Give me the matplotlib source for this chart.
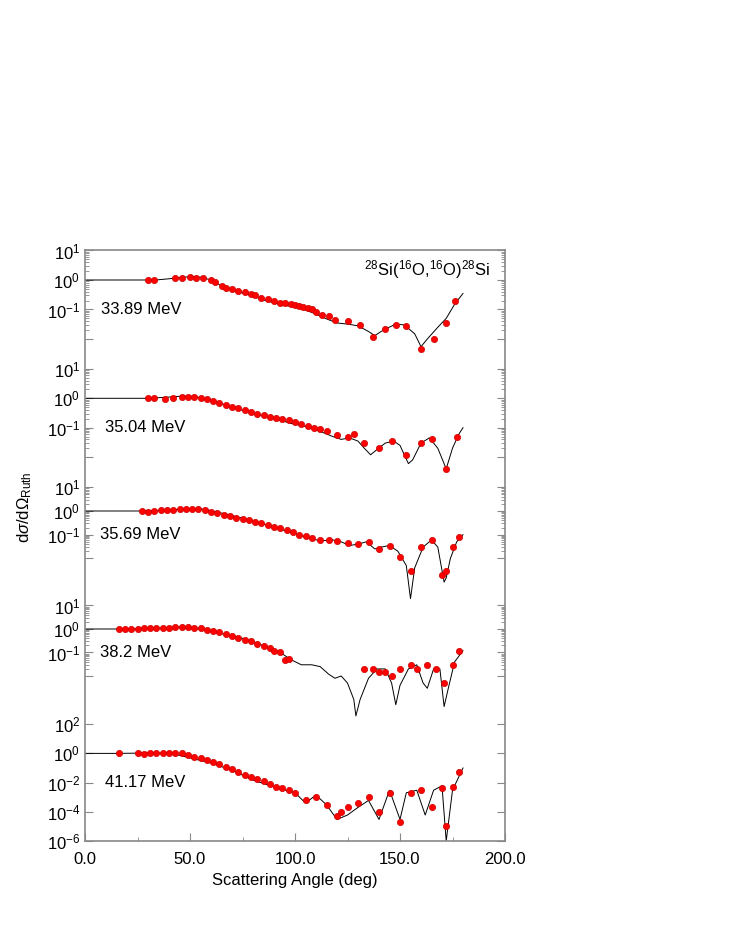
import numpy as np
import matplotlib.pyplot as plt
from matplotlib.ticker import FixedLocator, FixedFormatter

plt.rcParams['font.family'] = ['Liberation Sans', 'DejaVu Sans']
plt.rcParams['mathtext.fontset'] = 'custom'
plt.rcParams['mathtext.rm'] = 'Liberation Sans'
plt.rcParams['mathtext.it'] = 'Liberation Sans:italic'

# ---------------------------------------------------------
# data: angle (deg) and ratio to Rutherford
# ---------------------------------------------------------
energies = ['33.89 MeV', '35.04 MeV', '35.69 MeV', '38.2 MeV', '41.17 MeV']

th1_ang = [0, 25, 30, 35, 40, 45, 50, 55, 60, 65, 70, 75, 80, 85, 90, 95, 100, 105, 110, 115,
           120, 125, 130, 135, 138, 142, 148, 152, 157, 160, 163, 168, 172, 176, 180]
th1_val = [1.0, 1.0, 1.0, 1.02, 1.1, 1.2, 1.3, 1.25, 1.0, 0.63, 0.46, 0.36, 0.29, 0.21, 0.17, 0.14,
           0.12, 0.096, 0.07, 0.048, 0.035, 0.032, 0.028, 0.018, 0.013, 0.02, 0.032, 0.03, 0.015,
           0.0055, 0.01, 0.025, 0.05, 0.15, 0.35]
ex1_ang = [30, 33, 43, 46, 50, 53, 56, 60, 62, 65, 67, 70, 73, 76, 79, 81, 84, 87, 90, 93, 95, 98,
           100, 102, 104, 106, 108, 110, 113, 116, 119, 125, 131, 137, 143, 148, 153, 160, 166, 172, 176]
ex1_val = [1.0, 0.97, 1.15, 1.2, 1.25, 1.2, 1.15, 1.0, 0.85, 0.65, 0.55, 0.48, 0.42, 0.38, 0.33, 0.3,
           0.25, 0.23, 0.2, 0.17, 0.16, 0.15, 0.14, 0.13, 0.12, 0.11, 0.1, 0.085, 0.065, 0.06, 0.045,
           0.04, 0.03, 0.012, 0.022, 0.03, 0.027, 0.0045, 0.01, 0.035, 0.2]

th2_ang = [0, 30, 40, 47, 52, 58, 63, 68, 73, 78, 83, 88, 93, 98, 103, 108, 113, 118, 122, 126, 130,
           133, 136, 139, 143, 147, 150, 154, 156, 160, 164, 168, 172, 175, 178, 180]
th2_val = [1.0, 1.0, 1.1, 1.2, 1.15, 0.95, 0.75, 0.55, 0.42, 0.35, 0.27, 0.22, 0.18, 0.14, 0.12,
           0.095, 0.07, 0.05, 0.04, 0.045, 0.035, 0.02, 0.012, 0.018, 0.03, 0.035, 0.025, 0.006,
           0.008, 0.03, 0.045, 0.02, 0.004, 0.02, 0.06, 0.1]
ex2_ang = [30, 33, 38, 42, 46, 49, 52, 55, 58, 61, 64, 67, 70, 73, 76, 79, 82, 85, 88, 91, 94, 97,
           100, 103, 106, 109, 112, 115, 120, 125, 128, 133, 140, 146, 153, 160, 165, 172, 177]
ex2_val = [1.0, 1.0, 0.97, 1.05, 1.15, 1.15, 1.1, 1.0, 0.92, 0.8, 0.7, 0.58, 0.5, 0.45, 0.4, 0.35,
           0.3, 0.27, 0.24, 0.22, 0.2, 0.18, 0.16, 0.13, 0.11, 0.1, 0.09, 0.075, 0.055, 0.05, 0.06,
           0.03, 0.02, 0.035, 0.012, 0.03, 0.04, 0.004, 0.05]

th3_ang = [0, 28, 40, 50, 56, 62, 68, 75, 82, 88, 94, 100, 106, 112, 118, 122, 126, 130, 134, 138,
           141, 145, 149, 153, 155, 157, 161, 165, 168, 171, 172, 174, 177, 180]
th3_val = [1.0, 1.0, 1.1, 1.25, 1.2, 0.95, 0.7, 0.5, 0.33, 0.24, 0.16, 0.11, 0.075, 0.055, 0.06,
           0.05, 0.035, 0.04, 0.05, 0.025, 0.03, 0.035, 0.02, 0.005, 0.0002, 0.004, 0.03, 0.06,
           0.03, 0.001, 0.0015, 0.01, 0.05, 0.1]
ex3_ang = [27, 30, 33, 36, 39, 42, 45, 48, 51, 54, 57, 60, 63, 66, 69, 72, 75, 78, 81, 84, 87, 90,
           93, 96, 99, 102, 105, 108, 112, 116, 120, 125, 130, 135, 140, 145, 150, 155, 160, 165,
           170, 172, 175, 178]
ex3_val = [1.0, 0.95, 0.97, 1.05, 1.1, 1.15, 1.2, 1.25, 1.25, 1.2, 1.1, 0.95, 0.82, 0.7, 0.6, 0.52,
           0.47, 0.4, 0.34, 0.3, 0.26, 0.22, 0.19, 0.16, 0.13, 0.1, 0.085, 0.075, 0.06, 0.06, 0.055,
           0.045, 0.04, 0.05, 0.025, 0.035, 0.012, 0.003, 0.03, 0.06, 0.002, 0.003, 0.03, 0.08]

th4_ang = [0, 15, 25, 35, 45, 52, 60, 68, 75, 82, 88, 93, 98, 103, 108, 112, 116, 119, 122, 125,
           128, 129, 131, 135, 139, 143, 146, 148, 150, 154, 158, 161, 163, 166, 169, 171, 173,
           176, 180]
th4_val = [1.0, 1.0, 1.0, 1.1, 1.2, 1.1, 0.8, 0.55, 0.4, 0.25, 0.15, 0.1, 0.05, 0.03, 0.03, 0.025,
           0.012, 0.008, 0.01, 0.005, 0.001, 0.0002, 0.001, 0.008, 0.02, 0.02, 0.005, 0.0006, 0.004,
           0.02, 0.03, 0.005, 0.003, 0.02, 0.02, 0.0005, 0.003, 0.04, 0.12]
ex4_ang = [16, 19, 22, 25, 28, 31, 34, 37, 40, 43, 46, 49, 52, 55, 58, 61, 64, 67, 70, 73, 76, 79,
           82, 85, 88, 90, 93, 95, 97, 133, 137, 140, 143, 146, 150, 155, 158, 163, 167, 171, 175, 178]
ex4_val = [1.0, 0.98, 1.0, 1.02, 1.05, 1.08, 1.1, 1.12, 1.15, 1.2, 1.22, 1.2, 1.15, 1.05, 0.95,
           0.85, 0.72, 0.6, 0.5, 0.42, 0.35, 0.3, 0.24, 0.19, 0.15, 0.12, 0.1, 0.05, 0.055, 0.02, 0.02,
           0.015, 0.015, 0.01, 0.02, 0.03, 0.02, 0.03, 0.02, 0.005, 0.03, 0.12]

th5_ang = [0, 15, 40, 60, 70, 80, 90, 100, 105, 110, 115, 120, 125, 130, 135, 140, 145, 150, 153,
           158, 162, 166, 170, 172, 175, 180]
th5_val = [1.0, 1.0, 1.1, 0.22, 0.07, 0.015, 0.005, 0.002, 4e-4, 1.4e-3, 3e-4, 3e-5, 6e-5, 2e-4,
           6e-4, 3e-5, 3e-3, 3e-5, 2e-3, 3e-3, 6e-5, 3e-3, 6e-3, 1e-6, 3e-3, 0.1]
ex5_ang = [16, 25, 28, 31, 34, 37, 40, 43, 46, 49, 52, 55, 58, 61, 64, 67, 70, 73, 76, 79, 82, 85,
           88, 91, 94, 97, 100, 105, 110, 115, 120, 122, 125, 130, 135, 140, 145, 150, 155, 160,
           165, 170, 172, 175, 178]
ex5_val = [1.0, 1.0, 0.95, 1.0, 1.05, 1.1, 1.1, 1.05, 1.0, 0.8, 0.6, 0.45, 0.35, 0.25, 0.18, 0.12,
           0.08, 0.05, 0.035, 0.025, 0.018, 0.012, 0.008, 0.005, 0.004, 0.003, 0.002, 6e-4, 1e-3,
           3e-4, 5e-5, 1e-4, 2e-4, 4e-4, 1e-3, 1e-4, 2e-3, 2e-5, 2e-3, 3e-3, 2e-4, 4e-3, 1e-5,
           5e-3, 0.05]

theory = [(th1_ang, th1_val), (th2_ang, th2_val), (th3_ang, th3_val), (th4_ang, th4_val), (th5_ang, th5_val)]
expt = [(ex1_ang, ex1_val), (ex2_ang, ex2_val), (ex3_ang, ex3_val), (ex4_ang, ex4_val), (ex5_ang, ex5_val)]

# ---------------------------------------------------------
# stacked log panels on one linear axis
# ---------------------------------------------------------
base = [561.0, 442.7, 330.0, 212.0, 87.6]   # position of 10^0
dec = [29.5, 29.4, 23.7, 23.5, 14.6]        # height of one decade

def ypos(i, v):
    return base[i] + dec[i] * np.log10(np.asarray(v, dtype=float))

fig = plt.figure(figsize=(7.36, 9.52), dpi=100)
ax = fig.add_axes([85 / 736, 111 / 952, 420 / 736, 591 / 952])

for i in range(5):
    ax.plot(theory[i][0], ypos(i, theory[i][1]), color='black', lw=0.7, zorder=2)
    ax.plot(expt[i][0], ypos(i, expt[i][1]), 'o', color='#ff0000', mec='#cc0000', ms=4.5, mew=0.5,
            zorder=3, clip_on=False)

# y ticks
major_pos, major_lab, minor_pos = [], [], []
for i in range(4):
    for n in [1, 0, -1, -2]:
        major_pos.append(ypos(i, 10.0**n))
        major_lab.append('' if n == -2 else r'$10^{%d}$' % n)
    for n in [0, -1, -2]:
        for k in range(2, 10):
            minor_pos.append(ypos(i, k * 10.0**n))
for n in [2, 0, -2, -4, -6]:
    major_pos.append(ypos(4, 10.0**n))
    major_lab.append(r'$10^{%d}$' % n)

ax.yaxis.set_major_locator(FixedLocator(major_pos))
ax.yaxis.set_major_formatter(FixedFormatter(major_lab))
ax.yaxis.set_minor_locator(FixedLocator(minor_pos))
ax.set_ylim(-0.01, 591)
ax.set_xlim(0, 200)
ax.set_xticks([0, 50, 100, 150, 200])
ax.set_xticklabels(['0.0', '50.0', '100.0', '150.0', '200.0'])
ax.set_xticks([25, 75, 125, 175], minor=True)

ax.tick_params(which='both', direction='in', right=True, top=False, color='#888888', labelsize=12)
ax.tick_params(which='major', length=6, width=0.8)
ax.tick_params(which='minor', length=3, width=0.6)
ax.tick_params(axis='x', pad=8)
for s in ax.spines.values():
    s.set_color('#888888')
    s.set_linewidth(1.2)

lab_x = [7.6, 9.5, 7.1, 7.1, 9.5]
lab_y = [531, 413, 306, 188, 58]
for i in range(5):
    ax.text(lab_x[i], lab_y[i], energies[i], fontsize=12, va='center', ha='left')

ax.text(133, 571, r'$^{28}$Si($^{16}$O,$^{16}$O)$^{28}$Si', fontsize=12, va='center', ha='left')

ax.set_xlabel('Scattering Angle (deg)', fontsize=12, labelpad=4)
fig.text(25 / 736, 1 - 507 / 952, r'd$\sigma$/d$\Omega_{\rm Ruth}$', rotation=90, fontsize=12,
         va='center', ha='center')

fig.savefig('out.png', dpi=100, facecolor='white')
